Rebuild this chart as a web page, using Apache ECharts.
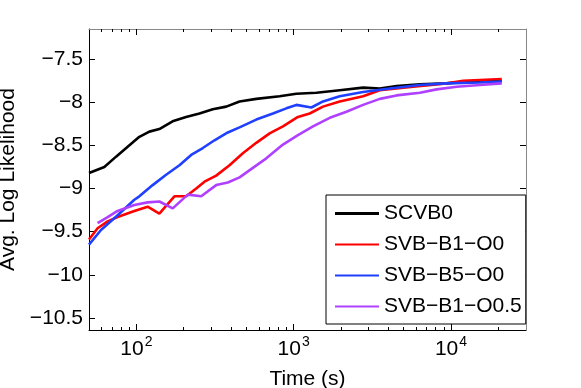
<!DOCTYPE html>
<html>
<head>
<meta charset="utf-8">
<script src="https://cdn.jsdelivr.net/npm/echarts@6/dist/echarts.min.js"></script>
<style>
  html, body { margin: 0; padding: 0; background: #fff; }
  #chart { width: 581px; height: 388px; }
</style>
</head>
<body>
<div id="chart"></div>
<script>
// values
const seriesNames = ['SCVB0', 'SVB−B1−O0', 'SVB−B5−O0', 'SVB−B1−O0.5'];
const seriesColors = ['#000000', '#ff0000', '#2040ff', '#b040ff'];

const scvb0Time = [50, 62.6, 74.3, 94.3, 104.5, 121, 140, 170, 207, 252, 306, 373, 453, 579, 814, 1040, 1395, 1963, 2763, 3530, 4510, 6346, 9389, 12589, 16882, 21036];
const scvb0LL = [-8.82, -8.75, -8.63, -8.47, -8.40, -8.34, -8.31, -8.22, -8.17, -8.13, -8.08, -8.05, -7.99, -7.96, -7.93, -7.90, -7.89, -7.86, -7.83, -7.84, -7.81, -7.79, -7.78, -7.76, -7.75, -7.75];

const svbB1O0Time = [50, 56.7, 65.7, 76, 97.1, 118, 140, 174.6, 207.3, 240.1, 271.1, 321.8, 391.1, 475.5, 578.7, 703.4, 855, 1065, 1264.6, 1537, 1963, 2763, 3530, 5753, 9389, 11976, 21036];
const svbB1O0LL = [-9.59, -9.46, -9.38, -9.33, -9.26, -9.21, -9.29, -9.09, -9.09, -9.00, -8.92, -8.85, -8.73, -8.59, -8.47, -8.36, -8.28, -8.17, -8.13, -8.05, -7.99, -7.93, -7.86, -7.82, -7.78, -7.75, -7.73];

const svbB5O0Time = [50, 59.6, 76, 97.1, 104.5, 127, 154.6, 187.9, 223.1, 264.5, 313.9, 381.5, 452.9, 578.7, 738.4, 898.3, 1040.4, 1296.5, 1537, 1963, 2763, 4088, 6346, 9389, 15300, 21036];
const svbB5O0LL = [-9.65, -9.48, -9.31, -9.13, -9.09, -8.96, -8.84, -8.73, -8.61, -8.53, -8.44, -8.35, -8.29, -8.20, -8.13, -8.07, -8.03, -8.06, -7.99, -7.93, -7.88, -7.84, -7.80, -7.78, -7.77, -7.76];

const svbB1O05Time = [56.7, 65.7, 76, 97.1, 118, 140.1, 170.3, 212.2, 258.3, 321.8, 381.5, 452.9, 550.6, 670.1, 855, 1065, 1327.3, 1696, 2166, 2763, 3530, 4510, 6346, 8107, 10873, 15300, 21036];
const svbB1O05LL = [-9.40, -9.33, -9.26, -9.19, -9.16, -9.15, -9.23, -9.07, -9.09, -8.96, -8.93, -8.87, -8.76, -8.65, -8.49, -8.38, -8.28, -8.18, -8.11, -8.03, -7.96, -7.92, -7.89, -7.85, -7.82, -7.80, -7.78];

const xMajorTicks = [100, 1000, 10000];
const xTickExponents = ['2', '3', '4'];
const xMinorTicks = [60, 70, 80, 90, 200, 300, 400, 500, 600, 700, 800, 900,
  2000, 3000, 4000, 5000, 6000, 7000, 8000, 9000, 20000];
const yTicks = [-10.5, -10, -9.5, -9, -8.5, -8, -7.5];
const yTickLabels = ['−10.5', '−10', '−9.5', '−9', '−8.5', '−8', '−7.5'];

const font = '"Liberation Sans", Arial, Helvetica, sans-serif';
const xMin = 50, xMax = 30000;
const yMin = -10.64, yMax = -7.15;

// legend strokes: a bar 44 wide, with tiny corner dots so the icon keeps 1:1 scale
const thickIcon = 'path://M0,0h0.05v0.05h-0.05Z M0,0H44V3H0Z M43.95,2.95h0.05v0.05h-0.05Z';
const thinIcon = 'path://M0,0h0.05v0.05h-0.05Z M0,0.5H44V2.5H0Z M43.95,2.95h0.05v0.05h-0.05Z';

function pairs(xs, ys) {
  return xs.map((x, i) => [x, ys[i]]);
}

const chart = echarts.init(document.getElementById('chart'), null, { renderer: 'canvas' });

function logAxis(position, tickValues, tickLen, lineColor, extra) {
  return Object.assign({
    type: 'log',
    logBase: 10,
    position: position,
    min: xMin,
    max: xMax,
    axisLine: { show: true, onZero: false, lineStyle: { color: lineColor, width: 1 } },
    axisTick: { show: true, inside: true, length: tickLen, customValues: tickValues,
      lineStyle: { color: '#000', width: 1 } },
    axisLabel: { show: false },
    splitLine: { show: false },
    minorTick: { show: false }
  }, extra || {});
}

const option = {
  animation: false,
  backgroundColor: '#fff',
  grid: { left: 89, right: 55, top: 29, bottom: 58, containLabel: false, outerBoundsMode: 'none' },
  xAxis: [
    logAxis('bottom', xMajorTicks, 6, '#000', {
      axisLabel: {
        show: true,
        customValues: xMajorTicks,
        margin: 9,
        formatter: function (v) {
          const i = xMajorTicks.indexOf(Math.round(v));
          return '{b|10}{s|' + (i >= 0 ? xTickExponents[i] : '') + '}';
        },
        rich: {
          b: { fontSize: 21, lineHeight: 21, fontFamily: font, color: '#000' },
          s: { fontSize: 14, lineHeight: 14, fontFamily: font, color: '#000', padding: [0, 0, 15, 1] }
        }
      },
      name: 'Time (s)',
      nameLocation: 'middle',
      nameGap: 33,
      nameTextStyle: { fontSize: 21, fontFamily: font, color: '#000' }
    }),
    logAxis('bottom', xMinorTicks, 3, '#000', { axisLine: { show: false } }),
    logAxis('top', xMajorTicks, 6, '#888'),
    logAxis('top', xMinorTicks, 3, '#888', { axisLine: { show: false } })
  ],
  yAxis: [
    {
      type: 'value',
      position: 'left',
      min: yMin,
      max: yMax,
      axisLine: { show: true, onZero: false, lineStyle: { color: '#000', width: 1 } },
      axisTick: { show: true, inside: true, length: 6, customValues: yTicks,
        lineStyle: { color: '#000' } },
      axisLabel: {
        customValues: yTicks,
        margin: 6,
        fontSize: 21,
        fontFamily: font,
        color: '#000',
        formatter: function (v) {
          const i = yTicks.findIndex(t => Math.abs(t - v) < 1e-6);
          return i >= 0 ? yTickLabels[i] : '';
        }
      },
      splitLine: { show: false },
      name: 'Avg. Log Likelihood',
      nameLocation: 'middle',
      nameGap: 63,
      nameTextStyle: { fontSize: 21, fontFamily: font, color: '#000' }
    },
    {
      type: 'value',
      position: 'right',
      min: yMin,
      max: yMax,
      axisLine: { show: true, onZero: false, lineStyle: { color: '#888', width: 1 } },
      axisTick: { show: true, inside: true, length: 6, customValues: yTicks,
        lineStyle: { color: '#000' } },
      axisLabel: { show: false },
      splitLine: { show: false }
    }
  ],
  legend: {
    orient: 'vertical',
    left: 326,
    top: 195,
    padding: [8, 4, 7, 9],
    itemGap: 10,
    itemWidth: 44,
    itemHeight: 3,
    borderColor: '#000',
    borderWidth: 1,
    borderRadius: 0,
    backgroundColor: '#fff',
    textStyle: { fontSize: 21, fontFamily: font, color: '#000' },
    data: seriesNames.map((n, i) => ({ name: n, icon: i === 0 ? thickIcon : thinIcon }))
  },
  series: [
    [scvb0Time, scvb0LL],
    [svbB1O0Time, svbB1O0LL],
    [svbB5O0Time, svbB5O0LL],
    [svbB1O05Time, svbB1O05LL]
  ].map((d, i) => ({
    name: seriesNames[i],
    type: 'line',
    xAxisIndex: 0,
    yAxisIndex: 0,
    symbol: 'none',
    smooth: false,
    clip: true,
    color: seriesColors[i],
    lineStyle: { color: seriesColors[i], width: 2.6 },
    data: pairs(d[0], d[1])
  }))
};

chart.setOption(option);
</script>
</body>
</html>
